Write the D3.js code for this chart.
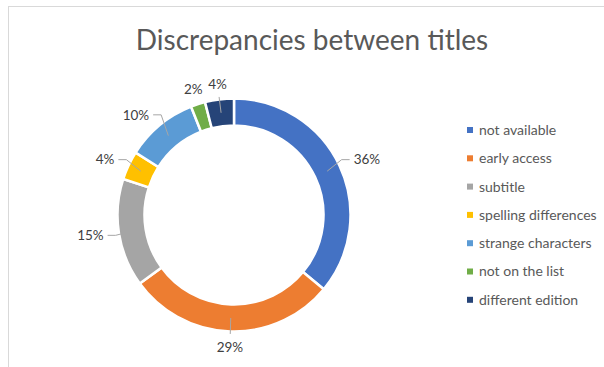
<!DOCTYPE html>
<html>
<head>
<meta charset="utf-8">
<script src="https://cdn.jsdelivr.net/npm/d3@7/dist/d3.min.js"></script>
<style>
  html, body { margin: 0; padding: 0; background: #fff; }
  svg { display: block; }
  text { font-family: Lato, "Open Sans", "Liberation Sans", sans-serif; }
</style>
</head>
<body>
<svg id="chart" width="604" height="367"></svg>
<script>
// Chart data
const title = "Discrepancies between titles";
const categories = ["not available", "early access", "subtitle", "spelling differences",
                    "strange characters", "not on the list", "different edition"];
const values = [36, 29, 15, 4, 10, 2, 4];
const colors = ["#4472C4", "#ED7D31", "#A5A5A5", "#FFC000", "#5B9BD5", "#70AD47", "#264478"];

const W = 604, H = 367;
const svg = d3.select("#chart");

// Chart area frame (left and top edges visible)
svg.append("rect")
  .attr("x", 8.5).attr("y", 6.5)
  .attr("width", W + 20).attr("height", H + 20)
  .attr("fill", "#fff")
  .attr("stroke", "#d9d9d9").attr("stroke-width", 1);

// Title
svg.append("text")
  .attr("x", 312).attr("y", 49.5)
  .attr("text-anchor", "middle")
  .attr("font-size", 28)
  .attr("fill", "#595959")
  .text(title);

// Doughnut
const cx = 234, cy = 215;
const rOuter = 116.5, rInner = 89.5, rMid = (rOuter + rInner) / 2;

const total = d3.sum(values);
const pie = d3.pie().sort(null).value(d => d.value)
  .startAngle(0).endAngle(2 * Math.PI);
const arcs = pie(categories.map((c, i) => ({ name: c, value: values[i], color: colors[i] })));

const arc = d3.arc().innerRadius(rInner).outerRadius(rOuter);

const g = svg.append("g").attr("transform", `translate(${cx},${cy})`);

g.selectAll("path.slice")
  .data(arcs)
  .join("path")
  .attr("class", "slice")
  .attr("d", arc)
  .attr("fill", d => d.data.color)
  .attr("stroke", "#fff")
  .attr("stroke-width", 2.5)
  .attr("stroke-linejoin", "miter");

// Data labels with leader lines
const fmt = v => Math.round(v / total * 100) + "%";
const labelG = g.append("g");

arcs.forEach(d => {
  const a = (d.startAngle + d.endAngle) / 2;
  const sx = Math.sin(a), sy = -Math.cos(a);
  const side = Math.abs(sx) > 0.5;
  const px = sx * rMid, py = sy * rMid;

  let tx, ty, anchor, pts;
  if (side) {
    const rl = 130;
    const dir = sx > 0 ? 1 : -1;
    const ex = sx * rl, ey = sy * rl;
    tx = ex + dir * 2; ty = ey;
    anchor = dir > 0 ? "start" : "end";
    const qx = tx - dir * 4;
    pts = [[px, py], [qx - dir * 8, ty], [qx, ty]];
  } else {
    const rl = 132;
    tx = sx * rl; ty = sy * rl;
    anchor = "middle";
    pts = [[px, py], [sx * 119, sy * 119]];
  }

  if (d.data.value >= 3) {
    labelG.append("path")
      .attr("d", d3.line()(pts))
      .attr("fill", "none")
      .attr("stroke", "#a6a6a6")
      .attr("stroke-width", 1);
  }

  labelG.append("text")
    .attr("x", tx).attr("y", ty)
    .attr("dy", "0.35em")
    .attr("text-anchor", anchor)
    .attr("font-size", 13.5)
    .attr("fill", "#404040")
    .text(fmt(d.data.value));
});

// Legend
const legend = svg.append("g").attr("transform", "translate(467,130)");
const rowH = 28.3;
const rows = legend.selectAll("g")
  .data(categories)
  .join("g")
  .attr("transform", (d, i) => `translate(0,${i * rowH})`);

rows.append("rect")
  .attr("x", 0).attr("y", -3)
  .attr("width", 6).attr("height", 6)
  .attr("fill", (d, i) => colors[i]);

rows.append("text")
  .attr("x", 12).attr("y", 0)
  .attr("dy", "0.35em")
  .attr("font-size", 14)
  .attr("fill", "#595959")
  .text(d => d);
</script>
</body>
</html>
